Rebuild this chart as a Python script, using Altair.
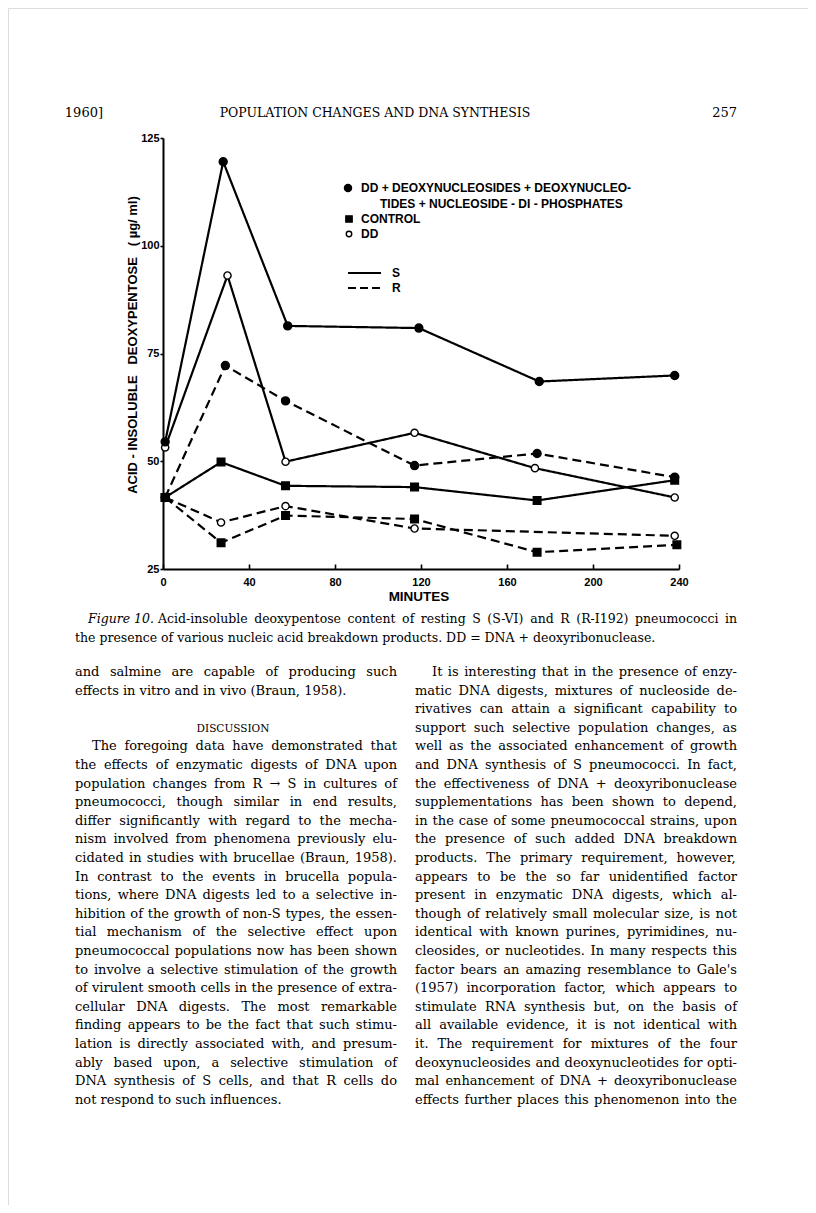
import os
import struct
import altair as alt
import pandas as pd

# ---------------- data ----------------
treatments = ["DD + nucleosides + nucleotides", "Control", "DD"]

nuc_S_minutes = [1, 28, 58, 119, 175, 238]
nuc_S_values = [54.5, 119.5, 81.4, 80.9, 68.5, 69.9]
nuc_R_minutes = [1, 29, 57, 117, 174, 238]
nuc_R_values = [41.6, 72.2, 64.0, 49.0, 51.8, 46.3]

dd_S_minutes = [1, 30, 57, 117, 173, 238]
dd_S_values = [53.2, 93.1, 49.9, 56.6, 48.4, 41.6]
dd_R_minutes = [1, 27, 57, 117, 238]
dd_R_values = [41.6, 35.8, 39.6, 34.4, 32.7]

ctl_S_minutes = [1, 27, 57, 117, 174, 238]
ctl_S_values = [41.6, 49.8, 44.3, 44.0, 40.9, 45.6]
ctl_R_minutes = [1, 27, 57, 117, 174, 239]
ctl_R_values = [41.6, 31.1, 37.4, 36.6, 28.9, 30.6]

x_ticks = [0, 40, 80, 120, 160, 200, 240]
y_ticks = [25, 50, 75, 100, 125]

header_left = "1960]"
header_title = "POPULATION CHANGES AND DNA SYNTHESIS"
header_right = "257"
y_title = "ACID\u00a0-\u00a0INSOLUBLE\u00a0\u00a0\u00a0DEOXYPENTOSE\u00a0\u00a0\u00a0(\u00a0µg/\u00a0ml)"
x_title = "MINUTES"
legend_lines = ["DD + DEOXYNUCLEOSIDES + DEOXYNUCLEO-",
                "TIDES + NUCLEOSIDE - DI - PHOSPHATES",
                "CONTROL", "DD", "S", "R"]
caption_fig = "Figure 10."
caption_1 = "Acid-insoluble deoxypentose content of resting S (S-VI) and R (R-I192) pneumococci in"
caption_2 = "the presence of various nucleic acid breakdown products. DD = DNA + deoxyribonuclease."

left_a = ["and salmine are capable of producing such",
          "effects in vitro and in vivo (Braun, 1958)."]
heading = "DISCUSSION"
left_b = ["The foregoing data have demonstrated that",
          "the effects of enzymatic digests of DNA upon",
          "population changes from R \u2192 S in cultures of",
          "pneumococci, though similar in end results,",
          "differ significantly with regard to the mecha-",
          "nism involved from phenomena previously elu-",
          "cidated in studies with brucellae (Braun, 1958).",
          "In contrast to the events in brucella popula-",
          "tions, where DNA digests led to a selective in-",
          "hibition of the growth of non-S types, the essen-",
          "tial mechanism of the selective effect upon",
          "pneumococcal populations now has been shown",
          "to involve a selective stimulation of the growth",
          "of virulent smooth cells in the presence of extra-",
          "cellular DNA digests. The most remarkable",
          "finding appears to be the fact that such stimu-",
          "lation is directly associated with, and presum-",
          "ably based upon, a selective stimulation of",
          "DNA synthesis of S cells, and that R cells do",
          "not respond to such influences."]
right_col = ["It is interesting that in the presence of enzy-",
             "matic DNA digests, mixtures of nucleoside de-",
             "rivatives can attain a significant capability to",
             "support such selective population changes, as",
             "well as the associated enhancement of growth",
             "and DNA synthesis of S pneumococci. In fact,",
             "the effectiveness of DNA + deoxyribonuclease",
             "supplementations has been shown to depend,",
             "in the case of some pneumococcal strains, upon",
             "the presence of such added DNA breakdown",
             "products. The primary requirement, however,",
             "appears to be the so far unidentified factor",
             "present in enzymatic DNA digests, which al-",
             "though of relatively small molecular size, is not",
             "identical with known purines, pyrimidines, nu-",
             "cleosides, or nucleotides. In many respects this",
             "factor bears an amazing resemblance to Gale's",
             "(1957) incorporation factor, which appears to",
             "stimulate RNA synthesis but, on the basis of",
             "all available evidence, it is not identical with",
             "it. The requirement for mixtures of the four",
             "deoxynucleosides and deoxynucleotides for opti-",
             "mal enhancement of DNA + deoxyribonuclease",
             "effects further places this phenomenon into the"]

# ---------------- tidy table ----------------
rows = []
def add(treat, strain, mins, vals):
    for m, v in zip(mins, vals):
        rows.append({"treatment": treat, "strain": strain,
                     "series": treat + " " + strain, "minute": m, "value": v})

add(treatments[2], "S", dd_S_minutes, dd_S_values)
add(treatments[2], "R", dd_R_minutes, dd_R_values)
add(treatments[0], "S", nuc_S_minutes, nuc_S_values)
add(treatments[0], "R", nuc_R_minutes, nuc_R_values)
add(treatments[1], "S", ctl_S_minutes, ctl_S_values)
add(treatments[1], "R", ctl_R_minutes, ctl_R_values)
df = pd.DataFrame(rows)
df["order"] = range(len(df))


# ---------------- font metrics (for justified body text) ----------------
def find_font(name):
    for root in ["/usr/share/fonts", "/usr/local/share/fonts",
                 os.path.expanduser("~/.fonts"), os.path.expanduser("~/.local/share/fonts")]:
        if not os.path.isdir(root):
            continue
        for dp, dn, fn in os.walk(root):
            if name in fn:
                return os.path.join(dp, name)
    return None


def load_widths(path):
    data = open(path, "rb").read()
    num_tables = struct.unpack(">H", data[4:6])[0]
    tables = {}
    for i in range(num_tables):
        tag, _cs, off, ln = struct.unpack(">4sIII", data[12 + 16 * i: 28 + 16 * i])
        tables[tag.decode("latin1")] = off
    head = tables["head"]
    upem = struct.unpack(">H", data[head + 18: head + 20])[0]
    hhea = tables["hhea"]
    num_h = struct.unpack(">H", data[hhea + 34: hhea + 36])[0]
    hmtx = tables["hmtx"]
    adv = [struct.unpack(">H", data[hmtx + 4 * i: hmtx + 4 * i + 2])[0] for i in range(num_h)]
    cmap = tables["cmap"]
    n = struct.unpack(">H", data[cmap + 2: cmap + 4])[0]
    sub = None
    for i in range(n):
        pid, eid, off = struct.unpack(">HHI", data[cmap + 4 + 8 * i: cmap + 12 + 8 * i])
        fmt = struct.unpack(">H", data[cmap + off: cmap + off + 2])[0]
        if fmt == 4:
            sub = cmap + off
            break
    seg_x2 = struct.unpack(">H", data[sub + 6: sub + 8])[0]
    seg = seg_x2 // 2
    ends = struct.unpack(">%dH" % seg, data[sub + 14: sub + 14 + seg_x2])
    starts = struct.unpack(">%dH" % seg, data[sub + 16 + seg_x2: sub + 16 + 2 * seg_x2])
    deltas = struct.unpack(">%dh" % seg, data[sub + 16 + 2 * seg_x2: sub + 16 + 3 * seg_x2])
    rpos = sub + 16 + 3 * seg_x2
    roffs = struct.unpack(">%dH" % seg, data[rpos: rpos + seg_x2])
    cache = {}

    def width(ch):
        if ch in cache:
            return cache[ch]
        c = ord(ch)
        g = 0
        for i in range(seg):
            if ends[i] >= c:
                if starts[i] <= c:
                    if roffs[i] == 0:
                        g = (c + deltas[i]) & 0xFFFF
                    else:
                        addr = rpos + 2 * i + roffs[i] + 2 * (c - starts[i])
                        gg = struct.unpack(">H", data[addr: addr + 2])[0]
                        g = (gg + deltas[i]) & 0xFFFF if gg else 0
                break
        a = adv[g] if g < num_h else adv[-1]
        cache[ch] = a / upem
        return cache[ch]
    return width


def fallback_width(ch):
    if ch == " ":
        return 0.318
    if ch in "il.,;:'!|":
        return 0.32
    if ch in "ft()-[]r":
        return 0.42
    if ch.isupper() or ch in "mw":
        return 0.74
    return 0.59


try:
    _fp = find_font("DejaVuSerif.ttf")
    char_w = load_widths(_fp) if _fp else fallback_width
except Exception:
    char_w = fallback_width


def text_w(s, size):
    return sum(char_w(ch) for ch in s) * size


# ---------------- layout (page pixels; plot origin is page (8,8)) ----------------
M = 8
W, H = 800, 1197
X0, X1 = 163, 679      # page x of 0 and 240 minutes
Y0, Y1 = 569, 138      # page y of 25 and 125
SERIF = "DejaVu Serif"
SANS = "Liberation Sans"
BODY = 13
LH = 18.6
TOP = 676
LX, RX, CW = 75, 415, 322
INDENT = 17

xscale = alt.Scale(domain=[0, 240], range=[X0 - M, X1 - M], nice=False, zero=False)
yscale = alt.Scale(domain=[25, 125], range=[Y0 - M, Y1 - M], nice=False, zero=False)

x_axis = alt.Axis(orient="top", offset=-(Y0 - M), values=x_ticks, tickSize=5,
                  tickWidth=1.6, tickColor="black", domainColor="black", domainWidth=2,
                  labelPadding=-12, labelBaseline="top", labelFont=SANS,
                  labelFontWeight="bold", labelFontSize=11, labelColor="black",
                  labelFlush=False, labelOverlap=False, title=None, grid=False)
y_axis = alt.Axis(orient="left", offset=-(X0 - M), values=y_ticks, tickSize=3,
                  tickWidth=1.6, tickColor="black", domainColor="black", domainWidth=2,
                  labelPadding=1, labelFont=SANS, labelFontWeight="bold",
                  labelFontSize=11, labelColor="black", labelFlush=False,
                  labelOverlap=False, title=None, grid=False)

base = alt.Chart(df)
lines = base.mark_line(color="black", strokeWidth=2.2).encode(
    x=alt.X("minute:Q", scale=xscale, axis=x_axis),
    y=alt.Y("value:Q", scale=yscale, axis=y_axis),
    strokeDash=alt.StrokeDash("strain:N", scale=alt.Scale(domain=["S", "R"],
                              range=[[1, 0], [9, 5]]), legend=None),
    detail="series:N",
    order="minute:Q",
)
points = base.mark_point(filled=True, stroke="black", strokeWidth=1.4, opacity=1).encode(
    x=alt.X("minute:Q", scale=xscale),
    y=alt.Y("value:Q", scale=yscale),
    shape=alt.Shape("treatment:N", scale=alt.Scale(domain=treatments,
                    range=["circle", "square", "circle"]), legend=None),
    fill=alt.Fill("treatment:N", scale=alt.Scale(domain=treatments,
                  range=["black", "black", "white"]), legend=None),
    size=alt.Size("treatment:N", scale=alt.Scale(domain=treatments,
                  range=[64, 52, 40]), legend=None),
    order="order:Q",
)


def txt(s, x, y, size=BODY, font=SERIF, weight="normal", style="normal",
        align="left", baseline="alphabetic", angle=None):
    props = dict(font=font, fontSize=size, fontWeight=weight, fontStyle=style,
                 align=align, baseline=baseline, color="black")
    if angle is not None:
        props["angle"] = angle
    return alt.Chart(pd.DataFrame({"t": [s]})).mark_text(**props).encode(
        text="t:N", x=alt.value(x - M), y=alt.value(y - M))


def justified(lines_, x_left, width, y_top, size, ragged=(), indents=()):
    recs = []
    for i, line in enumerate(lines_):
        y = y_top + i * LH
        ind = INDENT if i in indents else 0
        x0 = x_left + ind
        words = line.split(" ")
        if i in ragged or len(words) == 1:
            recs.append({"w": line, "px": x0 - M, "py": y - M})
            continue
        total = sum(text_w(w, size) for w in words)
        gap = (width - ind - total) / (len(words) - 1)
        gap = max(gap, 0.6 * text_w(" ", size))
        x = x0
        for w in words:
            recs.append({"w": w, "px": x - M, "py": y - M})
            x += text_w(w, size) + gap
    return alt.Chart(pd.DataFrame(recs)).mark_text(
        font=SERIF, fontSize=size, align="left", baseline="alphabetic", color="black"
    ).encode(text="w:N", x=alt.X("px:Q", scale=None, axis=None),
             y=alt.Y("py:Q", scale=None, axis=None))


def glyph(shape, fill, size, x, y):
    return alt.Chart(pd.DataFrame({"k": [0]})).mark_point(
        shape=shape, filled=True, fill=fill, stroke="black", strokeWidth=1.4,
        size=size, opacity=1).encode(x=alt.value(x - M), y=alt.value(y - M))


def sample(dash, x1, x2, y):
    props = dict(color="black", strokeWidth=2.2)
    if dash:
        props["strokeDash"] = dash
    return alt.Chart(pd.DataFrame({"k": [0]})).mark_rule(**props).encode(
        x=alt.value(x1 - M), x2=alt.value(x2 - M), y=alt.value(y - M))


layers = [lines, points]

# legend
LS = dict(size=12, font=SANS, weight="bold", baseline="middle")
layers += [
    glyph("circle", "black", 50, 348, 188), txt(legend_lines[0], 361, 188, **LS),
    txt(legend_lines[1], 380, 204, **LS),
    glyph("square", "black", 40, 349, 219), txt(legend_lines[2], 361, 219, **LS),
    glyph("circle", "white", 30, 349, 234), txt(legend_lines[3], 361, 234, **LS),
    sample(None, 348, 381, 273), txt(legend_lines[4], 392, 273, **LS),
    sample([8, 4], 348, 381, 288), txt(legend_lines[5], 392, 288, **LS),
]

# axis titles
layers += [
    txt(y_title, 133, 345, size=13, font=SANS, weight="bold", align="center",
        baseline="middle", angle=270),
    txt(x_title, 419, 597, size=13.5, font=SANS, weight="bold", align="center",
        baseline="middle"),
]

# header
layers += [
    txt(header_left, 103, 117, size=13, align="right"),
    txt(header_title, 375, 117, size=12.5, align="center"),
    txt(header_right, RX + CW, 117, size=13, align="right"),
]

# caption
CAP = 12.5
CAP_IND = 13
cap_fig_w = text_w(caption_fig + " ", CAP)
cap_x = LX + CAP_IND
layers += [
    txt(caption_fig, cap_x, 623, size=CAP, style="italic"),
    justified([caption_1], cap_x + cap_fig_w, RX + CW - (cap_x + cap_fig_w), 623, CAP),
    txt(caption_2, LX, 623 + LH, size=CAP),
]

# body text
layers += [
    justified(left_a, LX, CW, TOP, BODY, ragged=(1,)),
    txt(heading, LX + CW / 2 - 3, TOP + 3 * LH, size=10.5, align="center"),
    justified(left_b, LX, CW, TOP + 4 * LH, BODY, ragged=(19,), indents=(0,)),
    justified(right_col, RX, CW, TOP, BODY, indents=(0,)),
]

chart = alt.layer(*layers).properties(
    width=W, height=H,
    autosize=alt.AutoSizeParams(type="none"),
    padding=0,
).configure_view(stroke=None).configure(background="white")

chart.save("out.html", embed_options={"renderer": "svg", "actions": False})
